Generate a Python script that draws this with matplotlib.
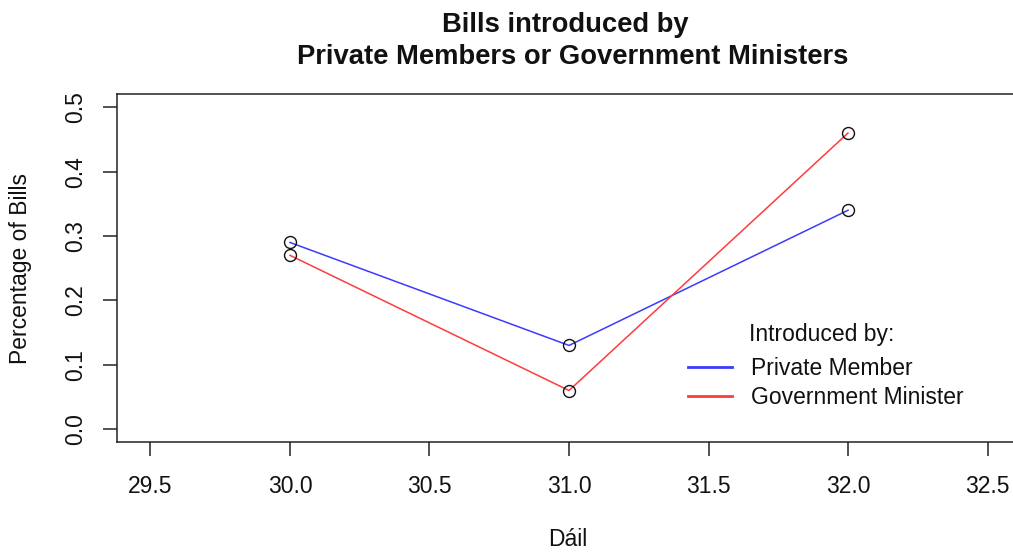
import matplotlib
matplotlib.use("Agg")
import matplotlib.pyplot as plt
from matplotlib.lines import Line2D

plt.rcParams['font.family'] = ['Liberation Sans', 'DejaVu Sans']

# Data
dail = [30, 31, 32]
private_member = [0.29, 0.13, 0.34]
government_minister = [0.27, 0.06, 0.46]
x_ticks = [29.5, 30.0, 30.5, 31.0, 31.5, 32.0, 32.5]
y_ticks = [0.0, 0.1, 0.2, 0.3, 0.4, 0.5]
series_names = ['Private Member', 'Government Minister']

W, H = 1013, 553
fig = plt.figure(figsize=(W / 100, H / 100), dpi=100)

# Plot region in pixels (right edge runs past the canvas)
left, right, top, bottom = 117, 1021, 94.4, 442
ax = fig.add_axes([left / W, 1 - bottom / H, (right - left) / W, (bottom - top) / H])

blue = '#3b3bff'
red = '#ff3b3b'
ink = '#111111'
fs = 16.5

ax.plot(dail, private_member, color=blue, lw=1.1, zorder=2)
ax.plot(dail, government_minister, color=red, lw=1.1, zorder=2)
for vals in (private_member, government_minister):
    ax.plot(dail, vals, linestyle='none', marker='o', markersize=8.6,
            markerfacecolor='none', markeredgecolor=ink, markeredgewidth=1.0, zorder=3)

# 4% padding around 29.5-32.5 and 0-0.5
ax.set_xlim(29.38, 32.62)
ax.set_ylim(-0.02, 0.52)
ax.set_xticks(x_ticks)
ax.set_xticklabels([f'{v:.1f}' for v in x_ticks])
ax.set_yticks(y_ticks)
ax.set_yticklabels([f'{v:.1f}' for v in y_ticks], rotation=90, va='center')

for s in ax.spines.values():
    s.set_color('#222222')
    s.set_linewidth(1.1)
ax.tick_params(axis='both', direction='out', length=10, width=1.1, color='#222222',
               labelsize=fs, labelcolor=ink)
ax.tick_params(axis='x', pad=13.5)
ax.tick_params(axis='y', pad=11.5)

# Titles and axis labels
fig.text(565 / W, 1 - 31.5 / H, 'Bills introduced by', ha='center', va='baseline',
         fontsize=19.7, fontweight='bold', color=ink)
fig.text(572.5 / W, 1 - 64 / H, 'Private Members or Government Ministers', ha='center',
         va='baseline', fontsize=19.7, fontweight='bold', color=ink)
fig.text(568 / W, 1 - 540 / H, 'Dáil', ha='center', va='center', fontsize=fs, color=ink)
fig.text(20 / W, 1 - 268 / H, 'Percentage of Bills', ha='center', va='center',
         rotation=90, fontsize=fs, color=ink)

# Legend
handles = [Line2D([], [], color=blue, lw=2), Line2D([], [], color=red, lw=2)]
leg = fig.legend(handles, series_names, loc='center left',
                 bbox_to_anchor=(688 / W, 1 - 383 / H), bbox_transform=fig.transFigure,
                 frameon=False, fontsize=fs, handlelength=1.9, handletextpad=0.85,
                 labelspacing=0.27, borderpad=0, borderaxespad=0)
for t in leg.get_texts():
    t.set_color(ink)
fig.text(821.5 / W, 1 - 335 / H, 'Introduced by:', ha='center', va='center',
         fontsize=fs, color=ink)

fig.savefig('out.png', dpi=100)
